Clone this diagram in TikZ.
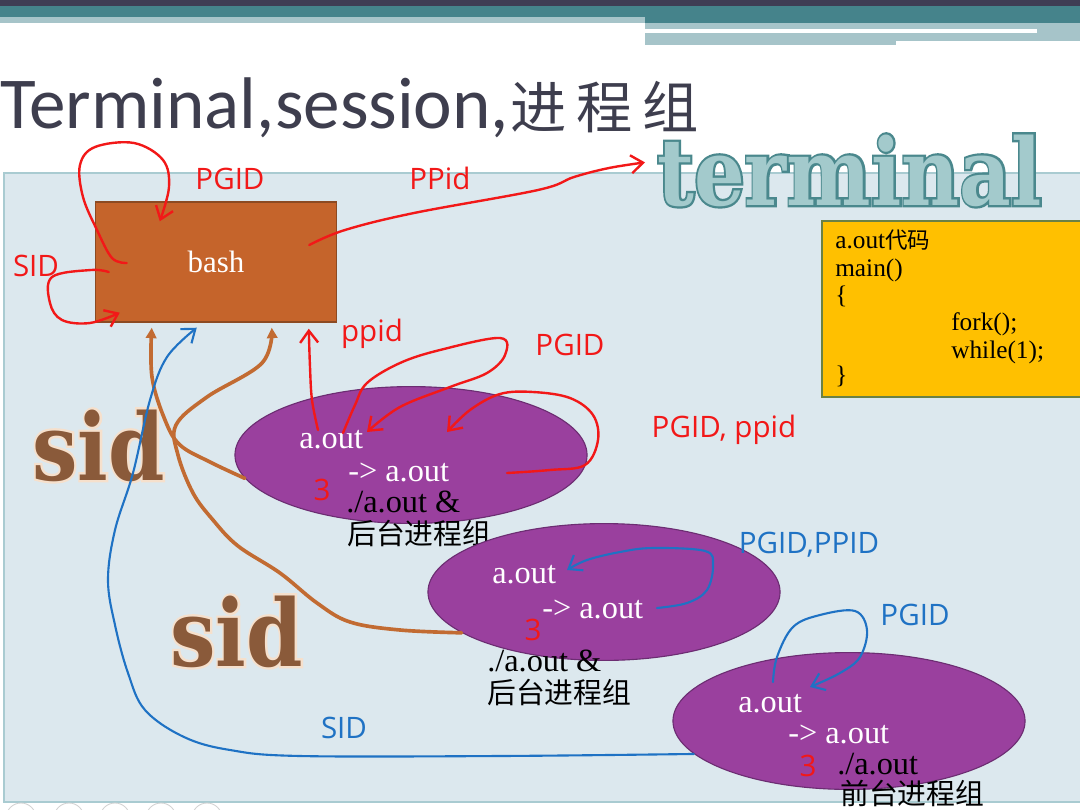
\documentclass[tikz,border=0pt]{standalone}
\usepackage{fontspec}
\usepackage{graphicx}
\setmainfont{Liberation Serif}
\newfontfamily\cjk{Noto Sans CJK SC}
\newfontfamily\titlefont{Carlito}
\newfontfamily\handfont{Open Sans}
\newfontfamily\slabfont{DejaVu Serif Bold}
\newfontfamily\slabedge{DejaVu Serif Bold}[FakeBold=5]
\usetikzlibrary{shapes.geometric, arrows.meta, calc}

\definecolor{barDark}{HTML}{3F3D54}
\definecolor{barTeal}{HTML}{45838B}
\definecolor{barLight}{HTML}{A6C4C9}
\definecolor{panelBg}{HTML}{DCE8EE}
\definecolor{panelLine}{HTML}{A9CBD1}
\definecolor{titleGrey}{HTML}{3E3E4E}
\definecolor{termFill}{HTML}{A3CACC}
\definecolor{termLine}{HTML}{4A888D}
\definecolor{sidFill}{HTML}{8A5A3A}
\definecolor{sidEdge}{HTML}{F6E0CC}
\definecolor{bashFill}{HTML}{C5642B}
\definecolor{bashLine}{HTML}{8C4A22}
\definecolor{codeFill}{HTML}{FFC000}
\definecolor{codeLine}{HTML}{6A8145}
\definecolor{grpFill}{HTML}{9A409E}
\definecolor{grpLine}{HTML}{6C2D72}
\definecolor{penRed}{HTML}{F21818}
\definecolor{penBlue}{HTML}{1F72C4}
\definecolor{penBrown}{HTML}{C26B32}

\tikzset{
  panel/.style     = {fill=panelBg, draw=panelLine, line width=1.2pt},
  shellbox/.style  = {rectangle, draw=bashLine, fill=bashFill, line width=1pt,
                      minimum width=6.025cm, minimum height=3cm, text=white,
                      font=\fontsize{22}{24}\selectfont},
  codebox/.style   = {rectangle, draw=codeLine, fill=codeFill, line width=1pt,
                      minimum width=6.7cm, minimum height=4.4cm},
  codetext/.style  = {anchor=base west, inner sep=0pt, font=\fontsize{18}{20}\selectfont},
  group/.style     = {ellipse, draw=grpLine, fill=grpFill, line width=0.8pt,
                      minimum width=8.8cm, minimum height=3.42cm, inner sep=0pt},
  proc/.style      = {anchor=base west, inner sep=0pt, text=white,
                      font=\fontsize{23}{25}\selectfont},
  cmd/.style       = {anchor=base west, inner sep=0pt, font=\fontsize{23}{25}\selectfont},
  cmdzh/.style     = {anchor=base west, inner sep=0pt, font=\cjk\fontsize{20.5}{22}\selectfont},
  bigword/.style   = {anchor=base west, inner sep=0pt,
                      font=\slabfont\fontsize{66}{70}\selectfont},
  bigedge/.style   = {anchor=base west, inner sep=0pt,
                      font=\slabedge\fontsize{66}{70}\selectfont},
  redtext/.style   = {text=penRed, inner sep=0pt, font=\handfont\fontsize{21}{24}\selectfont},
  bluetext/.style  = {text=penBlue, inner sep=0pt, font=\handfont\fontsize{21}{24}\selectfont},
  redpen/.style    = {draw=penRed, line width=1.7pt, line cap=round, line join=round,
                      -{Straight Barb[length=3mm, width=4.5mm]}},
  bluepen/.style   = {draw=penBlue, line width=1.5pt, line cap=round, line join=round,
                      -{Straight Barb[length=3mm, width=4.5mm]}},
  brownpen/.style  = {draw=penBrown, line width=2.6pt, line cap=round, line join=round,
                      -{Triangle[length=2.6mm, width=2.6mm]}}
}

\begin{document}
\begin{tikzpicture}[x=0.025cm, y=-0.025cm]
  \clip (0,0) rectangle (1080,810);
  % slide frame
  \fill[white] (0,0) rectangle (1080,810);
  \fill[barDark]  (0,0)    rectangle (1080,6);
  \fill[barTeal]  (0,6)    rectangle (1080,17);
  \fill[barTeal]  (645,17) rectangle (1080,23);
  \fill[barLight] (0,17)   rectangle (645,23);
  \fill[barLight] (645,23) rectangle (1080,41);
  \fill[white]    (645,29) rectangle (1037,33);
  \fill[barLight] (645,41) rectangle (896,45);
  \filldraw[panel] (4,173) rectangle (1090,802);
  \foreach \cx in {21,69,115,161,207}
    \draw[gray!35, line width=0.6pt] (\cx,818) circle (15);

  % headings
  \node[anchor=base west, inner sep=0pt, text=titleGrey,
        font=\titlefont\fontsize{52}{56}\selectfont] (title) at (0,128) {Terminal,session,};
  \node[anchor=base west, inner sep=0pt, text=titleGrey,
        font=\cjk\fontsize{40}{44}\selectfont] (titlezh) at (510,128) {进\hspace{0.25cm}程\hspace{0.25cm}组};
  \node[bigedge, text=termLine] (terminalEdge) at (657,205) {\scalebox{0.86}[1]{terminal}};
  \node[bigword, text=termFill] (terminal) at (657,205) {\scalebox{0.86}[1]{terminal}};
  \node[bigedge, text=sidEdge] (sid1Edge) at (32,480) {\scalebox{0.87}[1]{sid}};
  \node[bigword, text=sidFill] (sid1) at (32,480) {\scalebox{0.87}[1]{sid}};
  \node[bigedge, text=sidEdge] (sid2Edge) at (170,666) {\scalebox{0.87}[1]{sid}};
  \node[bigword, text=sidFill] (sid2) at (170,666) {\scalebox{0.87}[1]{sid}};

  % shell and code
  \node[shellbox] (bash) at (216,262) {bash};
  \node[codebox] (code) at (956,309) {};
  \node[codetext] (code1) at (835,248) {a.out{\cjk\fontsize{16}{18}\selectfont 代码}};
  \node[codetext] (code2) at (835,276) {main()};
  \node[codetext] (code3) at (835,303) {\{};
  \node[codetext] (code4) at (951,330) {fork();};
  \node[codetext] (code5) at (951,358) {while(1);};
  \node[codetext] (code6) at (835,383) {\}};

  % process groups
  \node[group] (e1) at (411,455) {};
  \node[proc]  (e1a) at (299,448) {a.out};
  \node[proc]  (e1b) at (348,481) {-> a.out};
  \node[cmd]   (e1c) at (346,512) {./a.out \&};
  \node[cmdzh] (e1d) at (347,544) {后台进程组};
  \node[group] (e2) at (604,592) {};
  \node[proc]  (e2a) at (492,583) {a.out};
  \node[proc]  (e2b) at (542,618) {-> a.out};
  \node[cmd]   (e2c) at (487,671) {./a.out \&};
  \node[cmdzh] (e2d) at (487,703) {后台进程组};
  \node[group] (e3) at (849,721) {};
  \node[proc]  (e3a) at (738,712) {a.out};
  \node[proc]  (e3b) at (788,743) {-> a.out};
  \node[cmd]   (e3c) at (837,774) {./a.out};
  \node[cmdzh] (e3d) at (840,804) {前台进程组};

  % pen notes
  \node[redtext]  (lblPgid)   at (230,179) {PGID};
  \node[redtext]  (lblPpid)   at (440,178) {PPid};
  \node[redtext]  (lblSid)    at (36,266)  {SID};
  \node[redtext]  (lblPpidB)  at (372,334) {ppid};
  \node[redtext]  (lblPgidB)  at (570,345) {PGID};
  \node[redtext]  (lblPgPp)   at (724,430) {PGID, ppid};
  \node[bluetext] (lblPgPpB)  at (809,545) {PGID,PPID};
  \node[bluetext] (lblPgidC)  at (915,615) {PGID};
  \node[bluetext] (lblSidB)   at (344,728) {SID};
  \node[redtext]  (mark1)     at (322,490) {3};
  \node[redtext]  (mark2)     at (533,630) {3};
  \node[redtext]  (mark3)     at (808,766) {3};

  % ends of the pen strokes
  \coordinate (pgOut)   at ($(bash.west)+(32,1)$);
  \coordinate (pgIn)    at ($(bash.north west)+(65,20)$);
  \coordinate (sidOut)  at ($(bash.west)+(14,10)$);
  \coordinate (sidIn)   at ($(bash.south west)+(25,-10)$);
  \coordinate (ppOut)   at ($(bash.east)+(-28,-17)$);
  \coordinate (ppIn)    at ($(terminal.west)+(-12,-8)$);
  \coordinate (bashUp)  at ($(bash.south west)+(214,6)$);
  \coordinate (tipA)    at ($(bash.south west)+(57,5)$);
  \coordinate (tipB)    at ($(bash.south west)+(102,5)$);
  \coordinate (tipC)    at ($(bash.south west)+(177,5)$);
  \coordinate (e1Up)    at ($(e1.center)+(-93,-25)$);
  \coordinate (e1PgOut) at ($(e1.center)+(-68,-22)$);
  \coordinate (e1PgIn)  at ($(e1.center)+(-44,-23)$);
  \coordinate (e1PpOut) at ($(e1.center)+(96,18)$);
  \coordinate (e1PpIn)  at ($(e1.center)+(36,-23)$);
  \coordinate (e2Out)   at ($(e2.center)+(53,16)$);
  \coordinate (e2In)    at ($(e2.center)+(-37,-22)$);
  \coordinate (e3Out)   at ($(e3.center)+(-76,-39)$);
  \coordinate (e3In)    at ($(e3.center)+(-39,-34)$);

  % session members back to bash
  \draw[brownpen] plot[smooth, tension=0.6] coordinates {(e1.188) (210,462) (180,445) (165,420) (152,377) (tipA)};
  \draw[brownpen] plot[smooth, tension=0.6] coordinates {(e2.196) (400,630) (350,622) (317,603) (280,573) (238,546)
    (213,520) (193,493) (178,455) (176,425) (207,397) (262,363) (tipC)};

  % blue notes
  \draw[bluepen] plot[smooth, tension=0.6] coordinates {(e3.192) (500,756) (300,756) (230,750) (184,737) (145,710)
    (128,673) (115,625) (108,580) (115,530) (133,473) (150,400) (167,357) (tipB)};
  \draw[bluepen] plot[smooth, tension=0.6] coordinates {(e2Out) (687,603) (707,590) (713,565) (705,551) (653,548)
    (620,552) (587,560) (e2In)};
  \draw[bluepen] plot[smooth, tension=0.6] coordinates {(e3Out) (777,657) (793,627) (820,615) (855,611) (867,630)
    (860,657) (840,673) (e3In)};

  % red notes
  \draw[redpen] plot[smooth, tension=0.6] coordinates {(pgOut) (112,258) (97,230) (83,197) (80,165) (95,147)
    (134,143) (163,160) (169,187) (pgIn)};
  \draw[redpen] plot[smooth, tension=0.6] coordinates {(sidOut) (91,270) (52,277) (50,303) (62,320) (90,323) (sidIn)};
  \draw[redpen] plot[smooth, tension=0.6] coordinates {(ppOut) (345,230) (414,213) (538,190) (574,177) (609,168) (ppIn)};
  \draw[redpen] plot[smooth, tension=0.6] coordinates {(e1Up) (312,400) (310,367) (bashUp)};
  \draw[redpen] plot[smooth, tension=0.6] coordinates {(e1PgOut) (355,405) (367,383) (400,363) (440,350) (500,338)
    (505,355) (487,373) (450,387) (400,407) (e1PgIn)};
  \draw[redpen] plot[smooth, tension=0.6] coordinates {(e1PpOut) (550,470) (585,465) (598,440) (593,415) (570,398)
    (533,392) (500,394) (470,410) (e1PpIn)};
\end{tikzpicture}
\end{document}
